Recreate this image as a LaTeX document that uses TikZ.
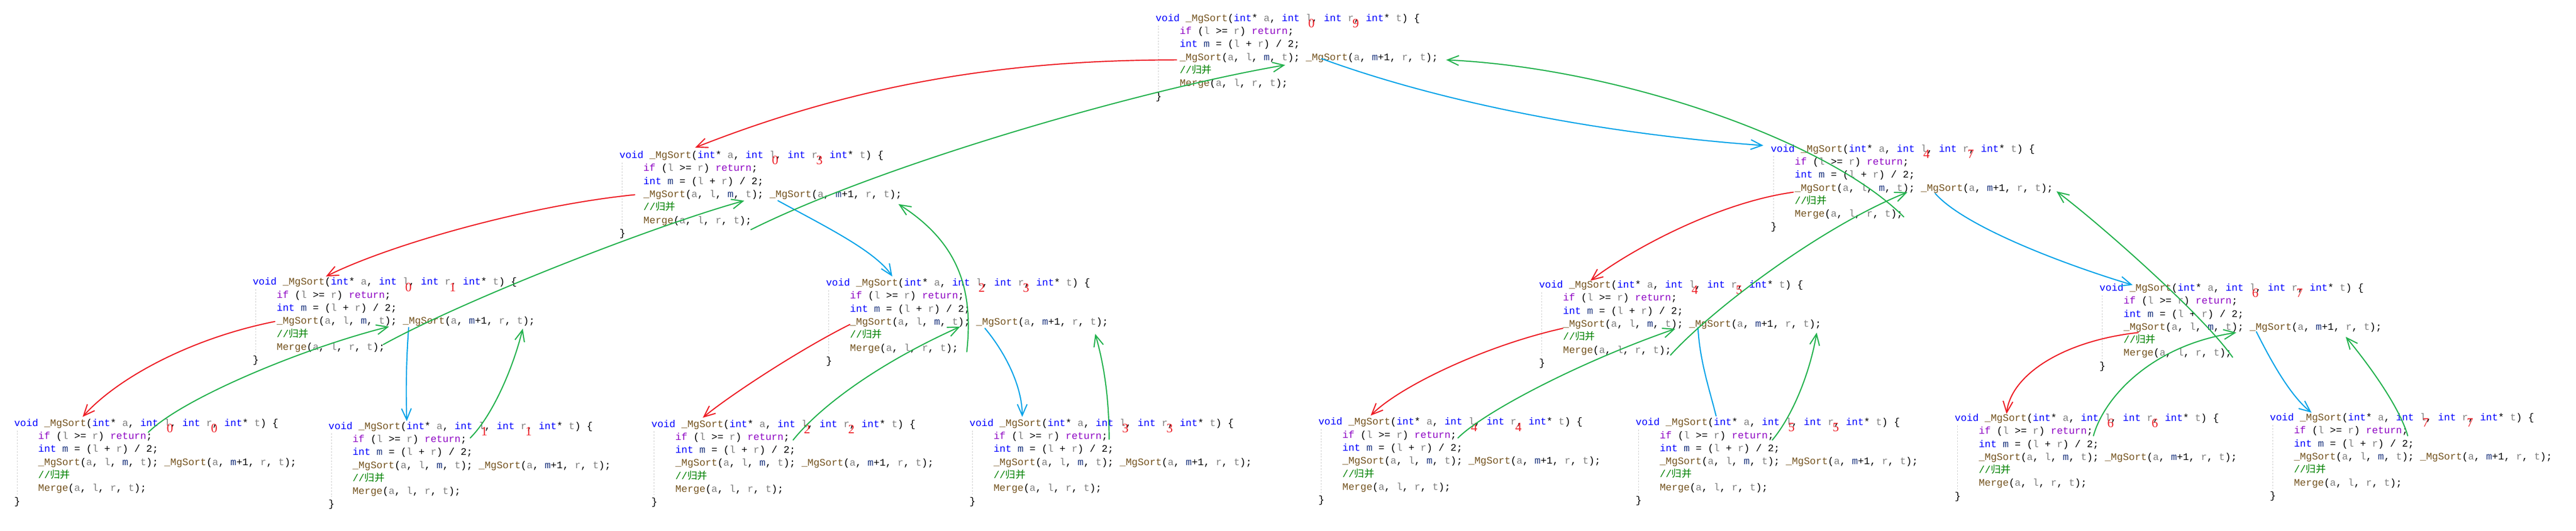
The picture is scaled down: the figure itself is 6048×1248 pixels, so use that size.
\documentclass[tikz,border=0pt]{standalone}
\usepackage{fontspec}
\usetikzlibrary{arrows.meta}
\newfontfamily\codefam{Liberation Mono}
\newfontfamily\cjk{Noto Sans CJK SC}
\newfontfamily\numfam{Liberation Serif}
\definecolor{kwblue}{HTML}{0000FF}
\definecolor{ctlpurple}{HTML}{8F08C4}
\definecolor{fnbrown}{HTML}{74531F}
\definecolor{pargray}{HTML}{808080}
\definecolor{locnavy}{HTML}{1F377F}
\definecolor{comgreen}{HTML}{008000}
\definecolor{inkred}{HTML}{ED1C24}
\definecolor{inkgreen}{HTML}{22B14C}
\definecolor{inkblue}{HTML}{00A2E8}
\newcommand\ckw[1]{\textcolor{kwblue}{#1}}
\newcommand\cctl[1]{\textcolor{ctlpurple}{#1}}
\newcommand\cfn[1]{\textcolor{fnbrown}{#1}}
\newcommand\cpar[1]{\textcolor{pargray}{#1}}
\newcommand\cloc[1]{\textcolor{locnavy}{#1}}
\newcommand\ccom[1]{\textcolor{comgreen}{#1}}
\tikzset{
  codeline/.style={anchor=base west, inner sep=0pt, font=\codefam\frenchspacing\fontsize{13.37}{16}\selectfont},
  rangenum/.style={inner sep=0pt, text=inkred, font=\numfam\fontsize{17}{17}\selectfont},
  indentguide/.style={draw=black!22, line width=0.5pt, dash pattern=on 2pt off 2pt},
  calls/.style={line width=1.5pt, line cap=round, line join=round, -{Straight Barb[length=15pt,width=13pt]}},
  leftcall/.style={calls, color=inkred},
  rightcall/.style={calls, color=inkblue},
  backcall/.style={calls, color=inkgreen}
}
% one recursive call: name, x, y, l, r
\newcommand\mgblock[5]{%
  \node[codeline] (#1-sig) at (#2,#3+7) {\ckw{void} \cfn{\_MgSort}(\ckw{int}* \cpar{a}, \ckw{int} \cpar{l}, \ckw{int} \cpar{r}, \ckw{int}* \cpar{t}) \{};
  \node[codeline] (#1-if) at (#2+56.4,#3+37.6) {\cctl{if} (\cpar{l} >= \cpar{r}) \cctl{return};};
  \node[codeline] (#1-mid) at (#2+56.4,#3+68.2) {\ckw{int} \cloc{m} = (\cpar{l} + \cpar{r}) / 2;};
  \node[codeline] (#1-lc) at (#2+56.4,#3+98.8) {\cfn{\_MgSort}(\cpar{a}, \cpar{l}, \cloc{m}, \cpar{t});};
  \node[codeline] (#1-rc) at (#2+352.5,#3+98.8) {\cfn{\_MgSort}(\cpar{a}, \cloc{m}+1, \cpar{r}, \cpar{t});};
  \node[codeline] (#1-cm) at (#2+56.4,#3+129.4) {\ccom{//{\cjk 归并}}};
  \node[codeline] (#1-mg) at (#2+56.4,#3+160) {\cfn{Merge}(\cpar{a}, \cpar{l}, \cpar{r}, \cpar{t});};
  \node[codeline] (#1-end) at (#2,#3+190.6) {\}};
  \draw[indentguide] (#2+7,#3+17) -- (#2+7,#3+167);
  \node[rangenum] (#1-nl) at (#2+366,#3+12) {#4};
  \node[rangenum] (#1-nr) at (#2+470,#3+12) {#5};
}
\begin{document}
\begin{tikzpicture}[x=0.02cm, y=-0.02cm]
  \useasboundingbox (0,0) rectangle (6048,1248);
  \mgblock{root}{2713}{43}{0}{9}
  \mgblock{l1a}{1454}{365}{0}{3}
  \mgblock{l1b}{4157}{350}{4}{7}
  \mgblock{l2a}{593}{663}{0}{1}
  \mgblock{l2b}{1939}{665}{2}{3}
  \mgblock{l2c}{3613}{670}{4}{5}
  \mgblock{l2d}{4929}{677}{6}{7}
  \mgblock{leaf0}{33}{995}{0}{0}
  \mgblock{leaf1}{771}{1002}{1}{1}
  \mgblock{leaf2}{1529}{997}{2}{2}
  \mgblock{leaf3}{2276}{995}{3}{3}
  \mgblock{leaf4}{3095}{992}{4}{4}
  \mgblock{leaf5}{3840}{993}{5}{5}
  \mgblock{leaf6}{4589}{983}{6}{6}
  \mgblock{leaf7}{5329}{982}{7}{7}
  \begin{scope}[leftcall]
    \draw ([shift={(-7,-1)}]root-lc.base west) .. controls +(-400,0) and +(380,-150) .. ([shift={(178,-25)}]l1a-sig.base west);
    \draw ([shift={(-20,-6)}]l1a-lc.base west) .. controls +(-250,25) and +(150,-75) .. ([shift={(172,-20)}]l2a-sig.base west);
    \draw ([shift={(-3,3)}]l1b-lc.base west) .. controls +(-180,25) and +(90,-70) .. ([shift={(121,-17)}]l2c-sig.base west);
    \draw ([shift={(-4,-6)}]l2a-lc.base west) .. controls +(-200,40) and +(80,-90) .. ([shift={(161,-22)}]leaf0-sig.base west);
    \draw ([shift={(0,-1)}]l2b-lc.base west) .. controls +(-120,60) and +(60,-50) .. ([shift={(121,-22)}]leaf2-sig.base west);
    \draw ([shift={(0,3)}]l2c-lc.base west) .. controls +(-180,40) and +(70,-70) .. ([shift={(123,-22)}]leaf4-sig.base west);
    \draw ([shift={(35,6)}]l2d-lc.base west) .. controls +(-180,20) and +(10,-90) .. ([shift={(122,-17)}]leaf6-sig.base west);
  \end{scope}
  \begin{scope}[rightcall]
    \draw ([shift={(37,-4)}]root-rc.base west) .. controls +(300,110) and +(-350,-25) .. ([shift={(-17,-15)}]l1b-sig.base west);
    \draw ([shift={(20,8)}]l1a-rc.base west) .. controls +(110,60) and +(-40,-60) .. ([shift={(156,-22)}]l2b-sig.base west);
    \draw ([shift={(34,6)}]l1b-rc.base west) .. controls +(70,80) and +(-150,-45) .. ([shift={(78,-14)}]l2d-sig.base west);
    \draw ([shift={(14,8)}]l2a-rc.base west) .. controls +(-6,80) and +(-2,-70) .. ([shift={(184,-19)}]leaf1-sig.base west);
    \draw ([shift={(21,8)}]l2b-rc.base west) .. controls +(50,60) and +(0,-70) .. ([shift={(124,-22)}]leaf3-sig.base west);
    \draw[-] ([shift={(21,1)}]l2c-rc.base west) .. controls +(4,80) and +(-14,-58) .. ([shift={(189,-22)}]leaf5-sig.base west);
    \draw ([shift={(16,4)}]l2d-rc.base west) .. controls +(35,70) and +(-50,-40) .. ([shift={(98,-19)}]leaf7-sig.base west);
  \end{scope}
  \begin{scope}[backcall]
    \draw ([shift={(-2,15)}]l1a-mg.base east) .. controls +(300,-150) and +(-350,60) .. ([shift={(248,11)}]root-lc.base west);
    \draw ([shift={(2,0)}]l1b-mg.base east) .. controls +(-179,-180) and +(405,19) .. ([shift={(19,-1)}]root-rc.base east);
    \draw ([shift={(-4,-13)}]l2a-mg.base east) .. controls +(200,-110) and +(-200,55) .. ([shift={(237,8)}]l1a-lc.base west);
    \draw ([shift={(20,2)}]l2b-mg.base east) .. controls +(16,-147) and +(141,90) .. ([shift={(-8,16)}]l1a-rc.base east);
    \draw ([shift={(-2,5)}]l2c-mg.base east) .. controls +(100,-110) and +(-200,80) .. ([shift={(265,3)}]l1b-lc.base west);
    \draw ([shift={(2,3)}]l2d-mg.base east) .. controls +(-70,-100) and +(100,75) .. ([shift={(8,1)}]l1b-rc.base east);
    \draw ([shift={(-10,-16)}]leaf0-if.base east) .. controls +(80,-80) and +(-200,50) .. ([shift={(264,6)}]l2a-lc.base west);
    \draw ([shift={(8,-10)}]leaf1-if.base east) .. controls +(50,-50) and +(-25,100) .. ([shift={(-29,11)}]l2a-rc.base east);
    \draw ([shift={(8,0)}]leaf2-if.base east) .. controls +(60,-75) and +(-200,90) .. ([shift={(259,4)}]l2b-lc.base west);
    \draw ([shift={(3,0)}]leaf3-if.base east) .. controls +(0,-100) and +(20,70) .. ([shift={(-31,21)}]l2b-rc.base east);
    \draw ([shift={(3,0)}]leaf4-if.base east) .. controls +(60,-60) and +(-230,80) .. ([shift={(264,4)}]l2c-lc.base west);
    \draw ([shift={(-4,4)}]leaf5-if.base east) .. controls +(50,-60) and +(-15,90) .. ([shift={(-11,13)}]l2c-rc.base east);
    \draw ([shift={(1,4)}]leaf6-if.base east) .. controls +(25,-90) and +(-200,30) .. ([shift={(265,6)}]l2d-lc.base west);
    \draw ([shift={(-1,5)}]leaf7-if.base east) .. controls +(-20,-70) and +(50,60) .. ([shift={(-85,16)}]l2d-rc.base east);
  \end{scope}
\end{tikzpicture}
\end{document}
